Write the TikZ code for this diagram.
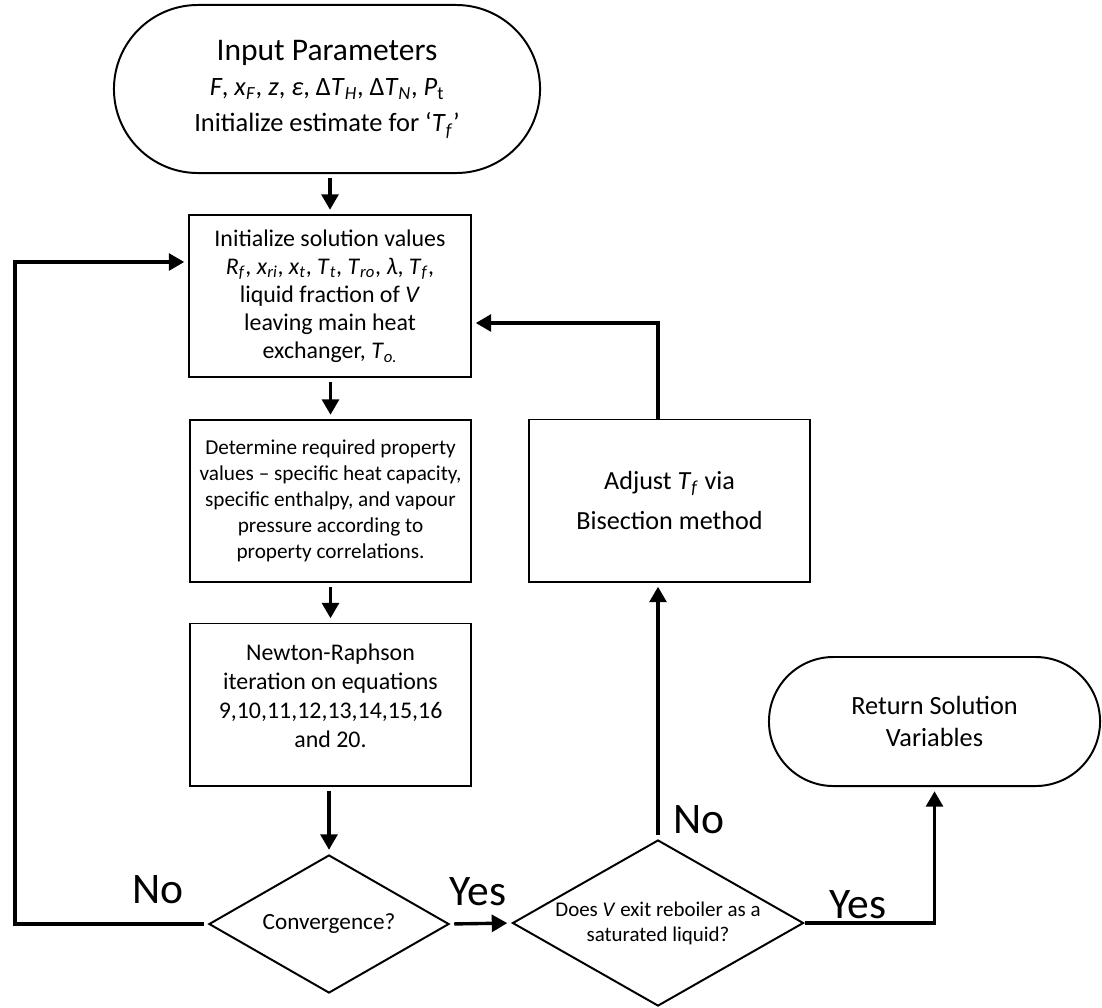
\documentclass[tikz,border=0pt]{standalone}
\usepackage{fontspec}
\setmainfont{Carlito}
\usetikzlibrary{shapes.geometric}
\usetikzlibrary{arrows.meta}
\usetikzlibrary{calc}
\tikzstyle{terminal}=[draw,line width=1.4pt,align=center,inner sep=0pt]
\tikzstyle{process}=[draw,line width=1.4pt,align=center,inner sep=2pt,minimum width=7.025cm,minimum height=4.05cm]
\tikzstyle{decision}=[diamond,draw,line width=1.4pt,align=center,inner sep=0pt,aspect=1.75]
\tikzstyle{flowline} = [draw,line width=2.4pt,-{Triangle[length=11pt,width=12pt]},shorten <=3pt,shorten >=3pt]
\tikzstyle{answer} = [font=\fontsize{31}{31}\selectfont,inner sep=0pt]

\begin{document}
\begin{tikzpicture}[x=0.025cm,y=-0.025cm]

    \useasboundingbox (0,0) rectangle (1102,1007);

%start
    \node[terminal,minimum width=10.65cm,minimum height=4.2cm,rounded corners=2.1cm,
          font=\fontsize{18.8}{25.5}\selectfont] (start) at (327,89)
        {{\fontsize{22.4}{25.5}\selectfont Input Parameters}\\
         \textit{F}, \textit{x}\textsubscript{\textit{F}}, \textit{z}, \textit{ε}, Δ\textit{T}\textsubscript{\textit{H}}, Δ\textit{T}\textsubscript{\textit{N}}, \textit{P}\textsubscript{t}\\
         Initialize estimate for ‘\textit{T}\textsubscript{\textit{f}}’};

%left column
    \node[process,font=\fontsize{17}{20}\selectfont] (init) at (330,296)
        {Initialize solution values\\
         \textit{R}\textsubscript{\textit{f}}, \textit{x}\textsubscript{\textit{ri}}, \textit{x}\textsubscript{\textit{t}}, \textit{T}\textsubscript{\textit{t}}, \textit{T}\textsubscript{\textit{ro}}, \textit{λ}, \textit{T}\textsubscript{\textit{f}},\\
         liquid fraction of \textit{V}\\
         leaving main heat\\
         exchanger, \textit{T}\textsubscript{\textit{o.}}};
    \node[process,font=\fontsize{15.1}{18.5}\selectfont] (props) at (330.5,501)
        {Determine required property\\
         values – specific heat capacity,\\
         specific enthalpy, and vapour\\
         pressure according to\\
         property correlations.};
    \node[process,font=\fontsize{17}{20.6}\selectfont] (newton) at (330.5,704.5)
        {Newton-Raphson\\
         iteration on equations\\
         9,10,11,12,13,14,15,16\\
         and 20.\\[-8pt]\mbox{}};
    \node[decision,minimum width=6cm,minimum height=3.45cm,
          font=\fontsize{16.5}{19}\selectfont] (conv) at (329,924) {Convergence?};

%right column
    \node[decision,minimum width=7.275cm,minimum height=4.15cm,
          font=\fontsize{14.9}{17.8}\selectfont] (reboil) at (658,923)
        {Does \textit{V} exit reboiler as a\\ saturated liquid?};
    \node[process,font=\fontsize{18.6}{28}\selectfont] (adjust) at (669.5,500.5)
        {Adjust \textit{T}\textsubscript{\textit{f}} via\\ Bisection method};
    \node[terminal,minimum width=8.275cm,minimum height=3.225cm,rounded corners=1.6125cm,
          font=\fontsize{18.7}{22.8}\selectfont] (finish) at (934.5,721.5)
        {Return Solution\\ Variables};

 % Edges
    \foreach \source/\dest in {start/init, init/props, props/newton, newton/conv}
        \path[flowline] (\source.south -| \dest.north) -- (\dest.north);

    \path[flowline] (conv.east) -- (reboil.west);
    \path[flowline] (reboil.north) -- (reboil.north |- adjust.south);
    \path[flowline,shorten <=0pt] (reboil.north |- adjust.north) |- ($(init.east)+(0,27)$);
    \path[flowline,shorten <=0pt] (reboil.east) -| (finish.south);

    \coordinate (loop) at (15,262);
    \path[flowline] (conv.west) -| (loop) -- (loop -| init.west);

 %Label
    \node[answer] (no1) at (158,890) {No};
    \node[answer] (yes1) at (478,892) {Yes};
    \node[answer] (no2) at (699,820) {No};
    \node[answer] (yes2) at (858,905) {Yes};

\end{tikzpicture}
\end{document}
